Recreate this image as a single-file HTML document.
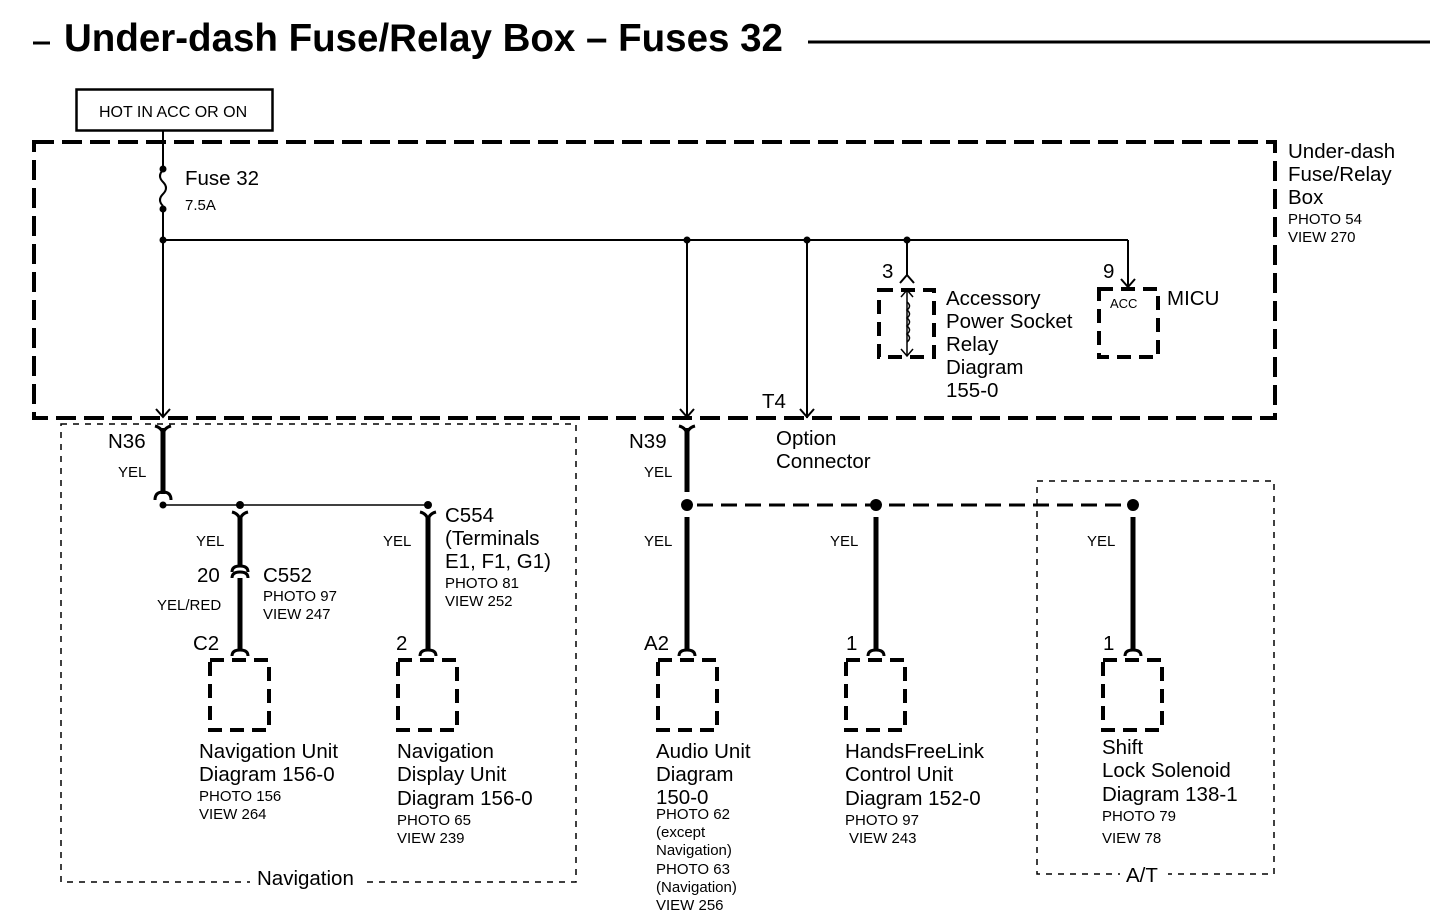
<!DOCTYPE html>
<html><head><meta charset="utf-8"><style>
body{margin:0;background:#fff}
svg{display:block}
text{font-family:"Liberation Sans",Arial,sans-serif;fill:#000}
.b{font-size:20.5px}
.s{font-size:15px}
</style></head><body>
<svg width="1440" height="920" viewBox="0 0 1440 920" xmlns="http://www.w3.org/2000/svg">
<!-- title -->
<line x1="33" y1="43" x2="50" y2="43" stroke="#000" stroke-width="3"/>
<text x="64" y="51" font-size="38.5" font-weight="bold">Under-dash Fuse/Relay Box – Fuses 32</text>
<line x1="808" y1="42" x2="1430" y2="42" stroke="#000" stroke-width="3"/>

<!-- hot box -->
<rect x="76.5" y="89.5" width="196" height="41" fill="none" stroke="#000" stroke-width="2.5"/>
<text x="99" y="117" font-size="16">HOT IN ACC OR ON</text>

<!-- big dashed box -->
<rect x="34" y="142" width="1241" height="276" fill="none" stroke="#000" stroke-width="4" stroke-dasharray="20,8"/>
<text class="b" x="1288" y="158">Under-dash</text>
<text class="b" x="1288" y="181">Fuse/Relay</text>
<text class="b" x="1288" y="204">Box</text>
<text class="s" x="1288" y="224">PHOTO 54</text>
<text class="s" x="1288" y="242">VIEW 270</text>

<!-- fuse wire -->
<g stroke="#000" stroke-width="2" fill="none">
<line x1="163" y1="131" x2="163" y2="168"/>
<path d="M163 170 q-6 6 0 12 q6 6 0 12 q-6 6 0 12"/>
<line x1="163" y1="209" x2="163" y2="416"/>
<line x1="163" y1="240" x2="1128" y2="240"/>
<line x1="1128" y1="240" x2="1128" y2="287"/>
<line x1="687" y1="240" x2="687" y2="418"/>
<line x1="807" y1="240" x2="807" y2="418"/>
<line x1="907" y1="240" x2="907" y2="276"/>
<path d="M156 409 L163 417 L170 409"/>
<path d="M680 409 L687 417 L694 409"/>
<path d="M800 409 L807 417 L814 409"/>
<path d="M1121 279 L1128 287 L1135 279"/>
<path d="M900 283 L907 275 L914 283"/>
</g>
<g fill="#000">
<circle cx="163" cy="169" r="3.5"/><circle cx="163" cy="209" r="3.5"/>
<circle cx="163" cy="240" r="3.5"/><circle cx="687" cy="240" r="3.5"/>
<circle cx="807" cy="240" r="3.5"/><circle cx="907" cy="240" r="3.5"/>
</g>
<text class="b" x="185" y="185">Fuse 32</text>
<text class="s" x="185" y="210">7.5A</text>
<text class="b" x="762" y="408">T4</text>
<text class="b" x="776" y="445">Option</text>
<text class="b" x="776" y="468">Connector</text>

<!-- relay -->
<rect x="879" y="290" width="55" height="67" fill="none" stroke="#000" stroke-width="4" stroke-dasharray="14,8"/>
<g stroke="#000" stroke-width="1.5" fill="none">
<line x1="907" y1="290" x2="907" y2="356"/>
<path d="M901 297 L907 290 L913 297"/>
<path d="M901 349 L907 356 L913 349"/>
<path d="M907 302 q5 4 0 8 q5 4 0 8 q5 4 0 8 q5 4 0 8 q5 4 0 8"/>
</g>
<text class="b" x="882" y="278">3</text>
<text class="b" x="946" y="305">Accessory</text>
<text class="b" x="946" y="328">Power Socket</text>
<text class="b" x="946" y="351">Relay</text>
<text class="b" x="946" y="374">Diagram</text>
<text class="b" x="946" y="397">155-0</text>

<!-- MICU -->
<rect x="1099" y="289" width="59" height="68" fill="none" stroke="#000" stroke-width="4" stroke-dasharray="14,8"/>
<text class="b" x="1103" y="278">9</text>
<text x="1110" y="308" font-size="13">ACC</text>
<text class="b" x="1167" y="305">MICU</text>

<!-- navigation dashed box -->
<rect x="61" y="424" width="515" height="458" fill="none" stroke="#000" stroke-width="1.5" stroke-dasharray="6,6"/>
<rect x="250" y="872" width="116" height="18" fill="#fff"/>
<text class="b" x="257" y="885">Navigation</text>
<!-- A/T box -->
<rect x="1037" y="481" width="237" height="393" fill="none" stroke="#000" stroke-width="1.5" stroke-dasharray="6,6"/>
<rect x="1120" y="864" width="48" height="18" fill="#fff"/>
<text class="b" x="1126" y="882">A/T</text>

<!-- thick wires -->
<g stroke="#000" stroke-width="5" fill="none">
<line x1="163" y1="428" x2="163" y2="494"/>
<line x1="240" y1="516" x2="240" y2="566"/>
<line x1="240" y1="578" x2="240" y2="650"/>
<line x1="428" y1="516" x2="428" y2="650"/>
<line x1="687" y1="428" x2="687" y2="492"/>
<line x1="687" y1="517" x2="687" y2="650"/>
<line x1="876" y1="517" x2="876" y2="650"/>
<line x1="1133" y1="517" x2="1133" y2="650"/>
<line x1="697" y1="505" x2="1125" y2="505" stroke-width="3" stroke-dasharray="16,8"/>
</g>
<g stroke="#000" stroke-width="3" fill="none">
<path d="M155 426 Q163 428 163 436 Q163 428 171 426"/>
<path d="M155 500 Q155 492 163 492 Q171 492 171 500"/>
<path d="M232 512 Q240 514 240 522 Q240 514 248 512"/>
<path d="M232 572 Q232 566 240 566 Q248 566 248 572"/>
<path d="M232 578 Q232 572 240 572 Q248 572 248 578"/>
<path d="M232 656 Q232 650 240 650 Q248 650 248 656"/>
<path d="M420 512 Q428 514 428 522 Q428 514 436 512"/>
<path d="M420 656 Q420 650 428 650 Q436 650 436 656"/>
<path d="M679 426 Q687 428 687 436 Q687 428 695 426"/>
<path d="M679 656 Q679 650 687 650 Q695 650 695 656"/>
<path d="M868 656 Q868 650 876 650 Q884 650 884 656"/>
<path d="M1125 656 Q1125 650 1133 650 Q1141 650 1141 656"/>
</g>
<line x1="163" y1="505" x2="428" y2="505" stroke="#000" stroke-width="1.5"/>
<g fill="#000">
<circle cx="163" cy="505" r="3.5"/><circle cx="240" cy="505" r="4"/><circle cx="428" cy="505" r="4"/>
<circle cx="687" cy="505" r="6"/><circle cx="876" cy="505" r="6"/><circle cx="1133" cy="505" r="6"/>
</g>
<g fill="none" stroke="#000" stroke-width="4" stroke-dasharray="14,8">
<rect x="210" y="660" width="59" height="70"/>
<rect x="398" y="660" width="59" height="70"/>
<rect x="658" y="660" width="59" height="70"/>
<rect x="846" y="660" width="59" height="70"/>
<rect x="1103" y="660" width="59" height="70"/>
</g>

<text class="b" x="108" y="448">N36</text>
<text class="s" x="118" y="477">YEL</text>
<text class="s" x="196" y="546">YEL</text>
<text class="b" x="197" y="582">20</text>
<text class="s" x="157" y="610">YEL/RED</text>
<text class="b" x="263" y="582">C552</text>
<text class="s" x="263" y="601">PHOTO 97</text>
<text class="s" x="263" y="619">VIEW 247</text>
<text class="b" x="193" y="650">C2</text>
<text class="s" x="383" y="546">YEL</text>
<text class="b" x="445" y="522">C554</text>
<text class="b" x="445" y="545">(Terminals</text>
<text class="b" x="445" y="568">E1, F1, G1)</text>
<text class="s" x="445" y="588">PHOTO 81</text>
<text class="s" x="445" y="606">VIEW 252</text>
<text class="b" x="396" y="650">2</text>

<text class="b" x="199" y="758">Navigation Unit</text>
<text class="b" x="199" y="781">Diagram 156-0</text>
<text class="s" x="199" y="801">PHOTO 156</text>
<text class="s" x="199" y="819">VIEW 264</text>
<text class="b" x="397" y="758">Navigation</text>
<text class="b" x="397" y="781">Display Unit</text>
<text class="b" x="397" y="805">Diagram 156-0</text>
<text class="s" x="397" y="825">PHOTO 65</text>
<text class="s" x="397" y="843">VIEW 239</text>

<text class="b" x="629" y="448">N39</text>
<text class="s" x="644" y="477">YEL</text>
<text class="s" x="644" y="546">YEL</text>
<text class="b" x="644" y="650">A2</text>
<text class="s" x="830" y="546">YEL</text>
<text class="b" x="846" y="650">1</text>
<text class="s" x="1087" y="546">YEL</text>
<text class="b" x="1103" y="650">1</text>

<text class="b" x="656" y="758">Audio Unit</text>
<text class="b" x="656" y="781">Diagram</text>
<text class="b" x="656" y="804">150-0</text>
<text class="s" x="656" y="819">PHOTO 62</text>
<text class="s" x="656" y="837">(except</text>
<text class="s" x="656" y="855">Navigation)</text>
<text class="s" x="656" y="874">PHOTO 63</text>
<text class="s" x="656" y="892">(Navigation)</text>
<text class="s" x="656" y="910">VIEW 256</text>

<text class="b" x="845" y="758">HandsFreeLink</text>
<text class="b" x="845" y="781">Control Unit</text>
<text class="b" x="845" y="805">Diagram 152-0</text>
<text class="s" x="845" y="825">PHOTO 97</text>
<text class="s" x="849" y="843">VIEW 243</text>

<text class="b" x="1102" y="754">Shift</text>
<text class="b" x="1102" y="777">Lock  Solenoid</text>
<text class="b" x="1102" y="801">Diagram 138-1</text>
<text class="s" x="1102" y="821">PHOTO 79</text>
<text class="s" x="1102" y="843">VIEW 78</text>
</svg>
</body></html>
